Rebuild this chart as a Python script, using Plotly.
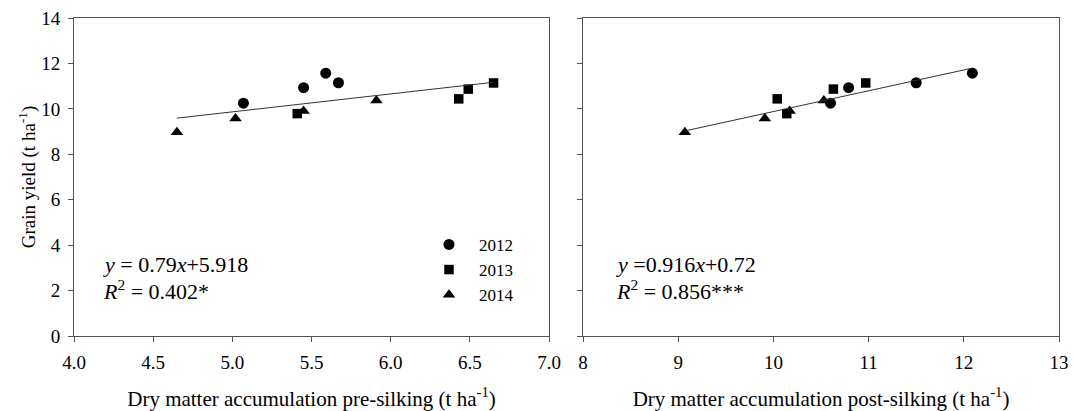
import plotly.graph_objects as go

# ---- data ----
years = ["2012", "2013", "2014"]
yield_2012 = [10.25, 10.93, 11.57, 11.15]
yield_2013 = [9.79, 10.44, 10.87, 11.14]
yield_2014 = [8.97, 9.57, 9.91, 10.37]
pre_2012 = [5.07, 5.45, 5.59, 5.67]
pre_2013 = [5.41, 6.43, 6.49, 6.65]
pre_2014 = [4.65, 5.02, 5.45, 5.91]
post_2012 = [10.60, 10.79, 12.09, 11.50]
post_2013 = [10.14, 10.04, 10.63, 10.97]
post_2014 = [9.07, 9.91, 10.17, 10.53]
pre_slope, pre_intercept = 0.79, 5.918
post_slope, post_intercept = 0.916, 0.72
y_ticks = [0, 2, 4, 6, 8, 10, 12, 14]
pre_ticks = [4.0, 4.5, 5.0, 5.5, 6.0, 6.5, 7.0]
post_ticks = [8, 9, 10, 11, 12, 13]

FONT = "Times New Roman, Liberation Serif, DejaVu Serif, serif"
symbols = ["circle", "square", "triangle-up"]
sizes = [11, 9.5, 11]
yields = [yield_2012, yield_2013, yield_2014]
pres = [pre_2012, pre_2013, pre_2014]
posts = [post_2012, post_2013, post_2014]

fig = go.Figure()

for i, yr in enumerate(years):
    fig.add_trace(go.Scatter(x=pres[i], y=yields[i], mode="markers", name=yr,
                             marker=dict(symbol=symbols[i], size=sizes[i], color="black"),
                             xaxis="x", yaxis="y", showlegend=True))
for i, yr in enumerate(years):
    fig.add_trace(go.Scatter(x=posts[i], y=yields[i], mode="markers", name=yr,
                             marker=dict(symbol=symbols[i], size=sizes[i], color="black"),
                             xaxis="x2", yaxis="y2", showlegend=False))

all_pre = pre_2012 + pre_2013 + pre_2014
all_post = post_2012 + post_2013 + post_2014
xl = [min(all_pre), max(all_pre)]
xr = [min(all_post), max(all_post)]
fig.add_trace(go.Scatter(x=xl, y=[pre_slope * v + pre_intercept for v in xl], mode="lines",
                         line=dict(color="#333333", width=1), xaxis="x", yaxis="y", showlegend=False))
fig.add_trace(go.Scatter(x=xr, y=[post_slope * v + post_intercept for v in xr], mode="lines",
                         line=dict(color="#333333", width=1), xaxis="x2", yaxis="y2", showlegend=False))

axis_common = dict(showline=True, linecolor="#555555", linewidth=1, mirror=True,
                   ticks="outside", ticklen=5, tickcolor="#555555", showgrid=False,
                   zeroline=False, automargin=False,
                   tickfont=dict(family=FONT, size=19, color="black"))

W, H = 1073, 411
fig.update_layout(
    width=W, height=H,
    margin=dict(l=0, r=0, t=18, b=75),
    paper_bgcolor="white", plot_bgcolor="white",
    font=dict(family=FONT, size=20, color="black"),
    xaxis=dict(domain=[74 / W, 549 / W], range=[4, 7], tickvals=pre_ticks,
               ticktext=[f"{v:.1f}" for v in pre_ticks], ticklabelstandoff=4,
               title=dict(text="Dry matter accumulation pre-silking (t ha<sup>-1</sup>)",
                          font=dict(family=FONT, size=21), standoff=20),
               anchor="y", **axis_common),
    yaxis=dict(domain=[0, 1], range=[0, 14], tickvals=y_ticks, ticklabelstandoff=4,
               title=dict(text="Grain yield (t ha<sup>-1</sup>)", font=dict(family=FONT, size=19),
                          standoff=0),
               anchor="x", **axis_common),
    xaxis2=dict(domain=[583 / W, 1059 / W], range=[8, 13], tickvals=post_ticks,
                ticklabelstandoff=4,
                title=dict(text="Dry matter accumulation post-silking (t ha<sup>-1</sup>)",
                           font=dict(family=FONT, size=21), standoff=20),
                anchor="y2", **axis_common),
    yaxis2=dict(domain=[0, 1], range=[0, 14], tickvals=y_ticks, showticklabels=False,
                anchor="x2", **axis_common),
    legend=dict(x=419 / W, y=1 - 270 / H, xanchor="left", yanchor="top",
                bgcolor="rgba(0,0,0,0)", font=dict(family=FONT, size=17),
                tracegroupgap=0, itemsizing="trace", itemwidth=50),
)

ann_font = dict(family=FONT, size=22, color="black")
fig.add_annotation(text="<i>y</i> = 0.79<i>x</i>+5.918", xref="x domain", yref="y domain",
                   x=0.057, y=(336 - 264) / 318, xanchor="left", yanchor="middle",
                   showarrow=False, font=ann_font)
fig.add_annotation(text="<i>R</i><sup>2</sup> = 0.402*", xref="x domain", yref="y domain",
                   x=0.057, y=(336 - 290) / 318, xanchor="left", yanchor="middle",
                   showarrow=False, font=ann_font)
fig.add_annotation(text="<i>y</i> =0.916<i>x</i>+0.72", xref="x2 domain", yref="y2 domain",
                   x=0.065, y=(336 - 264) / 318, xanchor="left", yanchor="middle",
                   showarrow=False, font=ann_font)
fig.add_annotation(text="<i>R</i><sup>2</sup> = 0.856***", xref="x2 domain", yref="y2 domain",
                   x=0.065, y=(336 - 290) / 318, xanchor="left", yanchor="middle",
                   showarrow=False, font=ann_font)

fig.write_html("out.html", config={"displayModeBar": False},
               post_script="document.body.style.margin='0';document.body.style.overflow='hidden';")
